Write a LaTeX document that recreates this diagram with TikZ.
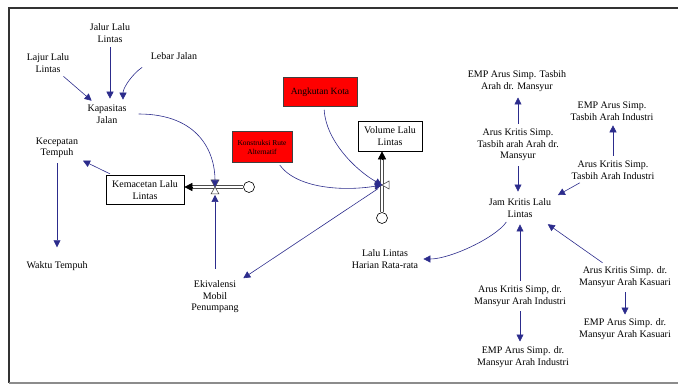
\documentclass[tikz,border=0pt]{standalone}
\usepackage{fontspec}
\setmainfont{Liberation Serif}
\usetikzlibrary{arrows.meta,calc}
\definecolor{linkblue}{RGB}{44,44,140}
\definecolor{auxred}{RGB}{255,0,0}
\tikzset{
  var/.style={align=center,inner sep=2pt,font=\fontsize{10}{11.5}\selectfont},
  stock/.style={draw,line width=.6pt,fill=white,align=center,inner sep=1pt,font=\fontsize{10}{11.5}\selectfont},
  hotbox/.style={draw=black!75,line width=.5pt,fill=auxred,align=center,inner sep=1pt},
  link/.style={draw=linkblue,line width=.6pt,-{Triangle[length=7pt,width=7pt]},linkblue,shorten <=3pt,shorten >=3pt},
  pipe/.style={draw=black!70,line width=.6pt,double=white,double distance=2pt},
  pipetip/.style={black,-{Triangle[length=8pt,width=8pt]}},
  sink/.style={circle,draw,fill=white,line width=.6pt,minimum size=11pt,inner sep=0pt},
  valvepart/.style={draw=black!80,line width=.5pt,fill=white},
}
\begin{document}
\begin{tikzpicture}[x=1pt,y=-1pt]
        \useasboundingbox (0,0) rectangle (678,385);
        \draw[line width=2.5pt,black!80] (678,8) -- (9,8) -- (9,383);
        \draw[line width=1.5pt,black!45] (9,383) -- (678,383);
        \foreach \n/\x/\y/\t in {
            jalur/110/33/{Jalur Lalu\\Lintas},
            lajur/48/63/{Lajur Lalu\\Lintas},
            lebar/174/56/{Lebar Jalan},
            kapasitas/107/114/{Kapasitas\\Jalan},
            kecepatan/57/148/{Kecepatan\\Tempuh},
            waktu/57/266/{Waktu Tempuh},
            ekivalensi/215/297/{Ekivalensi\\Mobil\\Penumpang},
            llhr/385/259/{Lalu Lintas\\Harian Rata-rata},
            jamkritis/520/208/{Jam Kritis Lalu\\Lintas},
            emptdm/517/81/{EMP Arus Simp. Tasbih\\Arah dr. Mansyur},
            aktdm/518/145/{Arus Kritis Simp.\\Tasbih arah Arah dr.\\Mansyur},
            empti/612/111/{EMP Arus Simp.\\Tasbih Arah Industri},
            akti/613/170/{Arus Kritis Simp.\\Tasbih Arah Industri},
            akdmi/520/296/{Arus Kritis Simp, dr.\\Mansyur Arah Industri},
            empdmi/523/357/{EMP Arus Simp. dr.\\Mansyur Arah Industri},
            akdmk/625/277/{Arus Kritis Simp. dr.\\Mansyur Arah Kasuari},
            empdmk/625/329/{EMP Arus Simp. dr.\\Mansyur Arah Kasuari}} {
            \node[var] (\n) at (\x,\y) {\t};
        }
        \node[stock,minimum width=78pt,minimum height=29pt] (kemacetan) at (145,190) {Kemacetan Lalu\\Lintas};
        \node[stock,minimum width=64pt,minimum height=30pt] (volume) at (390,136) {Volume Lalu\\Lintas};
        \node[hotbox,minimum width=74pt,minimum height=29pt,font=\fontsize{9.5}{11}\selectfont] (angkutan) at (320,92) {Angkutan Kota};
        \node[hotbox,minimum width=60pt,minimum height=31pt,font=\fontsize{7.5}{9}\selectfont] (konstruksi) at (262,147) {Konstruksi Rute\\Alternatif};
        \coordinate (v1) at (215,187);
        \coordinate (v2) at (382,185);
        \node[sink] (c1) at (249,187) {};
        \node[sink] (c2) at (382,218) {};
        \draw[pipe] (c1.west) -- ($(c1 -| kemacetan.east)+(8,0)$);
        \draw[pipetip] ($(c1 -| kemacetan.east)+(9,0)$) -- (c1 -| kemacetan.east);
        \draw[pipe] (c2.north) -- ($(c2 |- volume.south)+(0,8)$);
        \draw[pipetip] ($(c2 |- volume.south)+(0,9)$) -- (c2 |- volume.south);
        \draw[valvepart] (v1) -- ++(-4,-7) -- ++(8,0) -- cycle (v1) -- ++(-4,7) -- ++(8,0) -- cycle;
        \draw[valvepart] (v2) -- ++(-7,-4) -- ++(0,8) -- cycle (v2) -- ++(7,-4) -- ++(0,8) -- cycle;
        \foreach \a/\b/\s in {jalur/kapasitas/4pt,kecepatan/waktu/12pt,aktdm/jamkritis/5pt,akdmi/empdmi/3pt,akdmk/empdmk/2pt} {
            \draw[link,shorten >=\s] (\a.south) -- (\a.south |- \b.north);
        }
        \foreach \a/\b/\s in {aktdm/emptdm/4pt,akti/empti/3pt,akdmi/jamkritis/5pt} {
            \draw[link,shorten >=\s] (\a.north) -- (\a.north |- \b.south);
        }
        \draw[link] (lajur) -- (kapasitas);
        \draw[link] ([xshift=-4pt,yshift=-4pt]lebar.south west) .. controls +(-12,8) and +(0,-15) .. ([xshift=16pt]kapasitas.north);
        \draw[link,shorten <=10pt,shorten >=0pt] (kapasitas.east) .. controls +(70,0) and +(0,-35) .. (v1);
        \draw[link] ([xshift=7pt]kemacetan.north west) -- (kecepatan);
        \draw[link,shorten <=10pt,shorten >=0pt] (ekivalensi.north) -- ($(v1)+(0,8)$);
        \draw[link,shorten >=0pt] ([xshift=4pt]angkutan.south) .. controls +(2,35) and +(-25,-14) .. (v2);
        \draw[link,shorten >=0pt] ([xshift=16pt]konstruksi.south) .. controls +(20,27) and +(-35,6) .. (v2);
        \draw[link,shorten <=1pt] ($(v2)+(-3,3)$) -- (ekivalensi);
        \draw[link] ([xshift=-12pt]jamkritis.south) .. controls +(-12,18) and +(30,0) .. (llhr.east);
        \draw[link] ([xshift=13pt]akti.south west) -- ([xshift=2pt]jamkritis.north east);
        \draw[link] ([xshift=-20pt]akdmk.north) -- ([xshift=-8pt,yshift=-3pt]jamkritis.south east);
\end{tikzpicture}
\end{document}
